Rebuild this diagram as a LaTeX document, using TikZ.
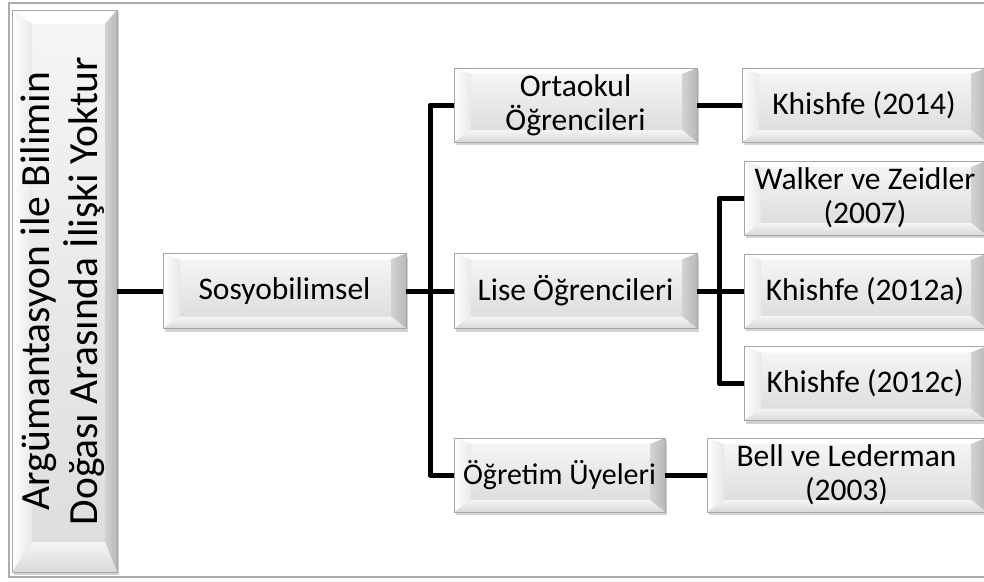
\documentclass[tikz,border=0pt]{standalone}
\usepackage{fontspec}
\setmainfont{Carlito}
\usetikzlibrary{calc,shadows}

\tikzset{
  bevel l/.store in=\bevL, bevel r/.store in=\bevR,
  bevel t/.store in=\bevT, bevel b/.store in=\bevB,
  bevel l=17pt, bevel r=15pt, bevel t=6pt, bevel b=12pt,
  bevelbox/.style={
    rectangle, draw=gray!70, line width=0.8pt, fill=gray!25,
    align=center, inner sep=0pt,
    font=\fontsize{31.5}{34}\selectfont,
    drop shadow={shadow xshift=2pt, shadow yshift=-3pt, opacity=0.35, fill=gray},
    path picture={
      \path (path picture bounding box.north west) coordinate (pA)
            (path picture bounding box.north east) coordinate (pB)
            (path picture bounding box.south east) coordinate (pC)
            (path picture bounding box.south west) coordinate (pD);
      \path ($(pA)+(\bevL,-\bevT)$) coordinate (pa)
            ($(pB)+(-\bevR,-\bevT)$) coordinate (pb)
            ($(pC)+(-\bevR,\bevB)$) coordinate (pc)
            ($(pD)+(\bevL,\bevB)$) coordinate (pd);
      % raised face
      \shade[top color=gray!8, bottom color=gray!26] (pa) rectangle (pc);
      % bevel facets
      \fill[white] (pA) -- (pB) -- (pb) -- (pa) -- cycle;
      \shade[left color=white, right color=gray!18] (pA) -- (pa) -- (pd) -- (pD) -- cycle;
      \shade[left color=gray!35, right color=gray!55] (pB) -- (pC) -- (pc) -- (pb) -- cycle;
      \shade[top color=gray!8, bottom color=gray!30] (pD) -- (pd) -- (pc) -- (pC) -- cycle;
    }},
  link/.style={line width=5pt, black, line join=round},
  frame/.style={draw=gray!65, line width=1.6pt}
}

\begin{document}
\begin{tikzpicture}[x=1pt, y=-1pt]
  \clip (0,0) rectangle (984,581);
  \fill[white] (0,0) rectangle (984,581);
  \draw[frame] (9,3) rectangle (1000,577);

  % root
  \node[bevelbox, bevel l=20pt, bevel r=12pt, bevel t=14pt, bevel b=30pt,
        minimum width=105pt, minimum height=562pt] (main) at (64.5,291)
    {\raisebox{-10pt}{\rotatebox{90}{\fontsize{41.5}{47}\selectfont
      \begin{tabular}{@{}c@{}}Argümantasyon ile Bilimin\\Doğası Arasında İlişki Yoktur\end{tabular}}}};

  % second level
  \node[bevelbox, minimum width=243pt, minimum height=75pt] (sos) at (284.5,291) {Sosyobilimsel};

  % third level
  \node[bevelbox, minimum width=243pt, minimum height=74pt] (ort) at (575.5,105) {Ortaokul\\Öğrencileri};
  \node[bevelbox, minimum width=243pt, minimum height=75pt] (lise) at (575.5,291) {Lise Öğrencileri};
  \node[bevelbox, minimum width=211pt, minimum height=74pt, font=\fontsize{30}{33}\selectfont] (ogr) at (559.5,475) {Öğretim Üyeleri};

  % sources
  \node[bevelbox, minimum width=244pt, minimum height=74pt] (k14) at (864,105) {Khishfe (2014)};
  \node[bevelbox, minimum width=242pt, minimum height=74pt] (walk) at (865,198) {Walker ve Zeidler\\(2007)};
  \node[bevelbox, minimum width=242pt, minimum height=74pt] (k12a) at (865,291) {Khishfe (2012a)};
  \node[bevelbox, minimum width=242pt, minimum height=74pt] (k12c) at (865,383.5) {Khishfe (2012c)};
  \node[bevelbox, minimum width=279pt, minimum height=74pt] (bell) at (846.5,475) {Bell ve Lederman\\(2003)};

  % bus lines
  \coordinate (b1) at (430,291);
  \coordinate (b2) at (719,291);

  \draw[link] (main.east) -- (sos.west);
  \draw[link] (sos.east) -- (lise.west);
  \draw[link] (ort.west) -| (b1) |- (ogr.west);
  \draw[link] (ort.east) -- (k14.west);
  \draw[link] (lise.east) -- (k12a.west);
  \draw[link] (walk.west) -| (b2) |- (k12c.west);
  \draw[link] (ogr.east) -- (bell.west);
\end{tikzpicture}
\end{document}
